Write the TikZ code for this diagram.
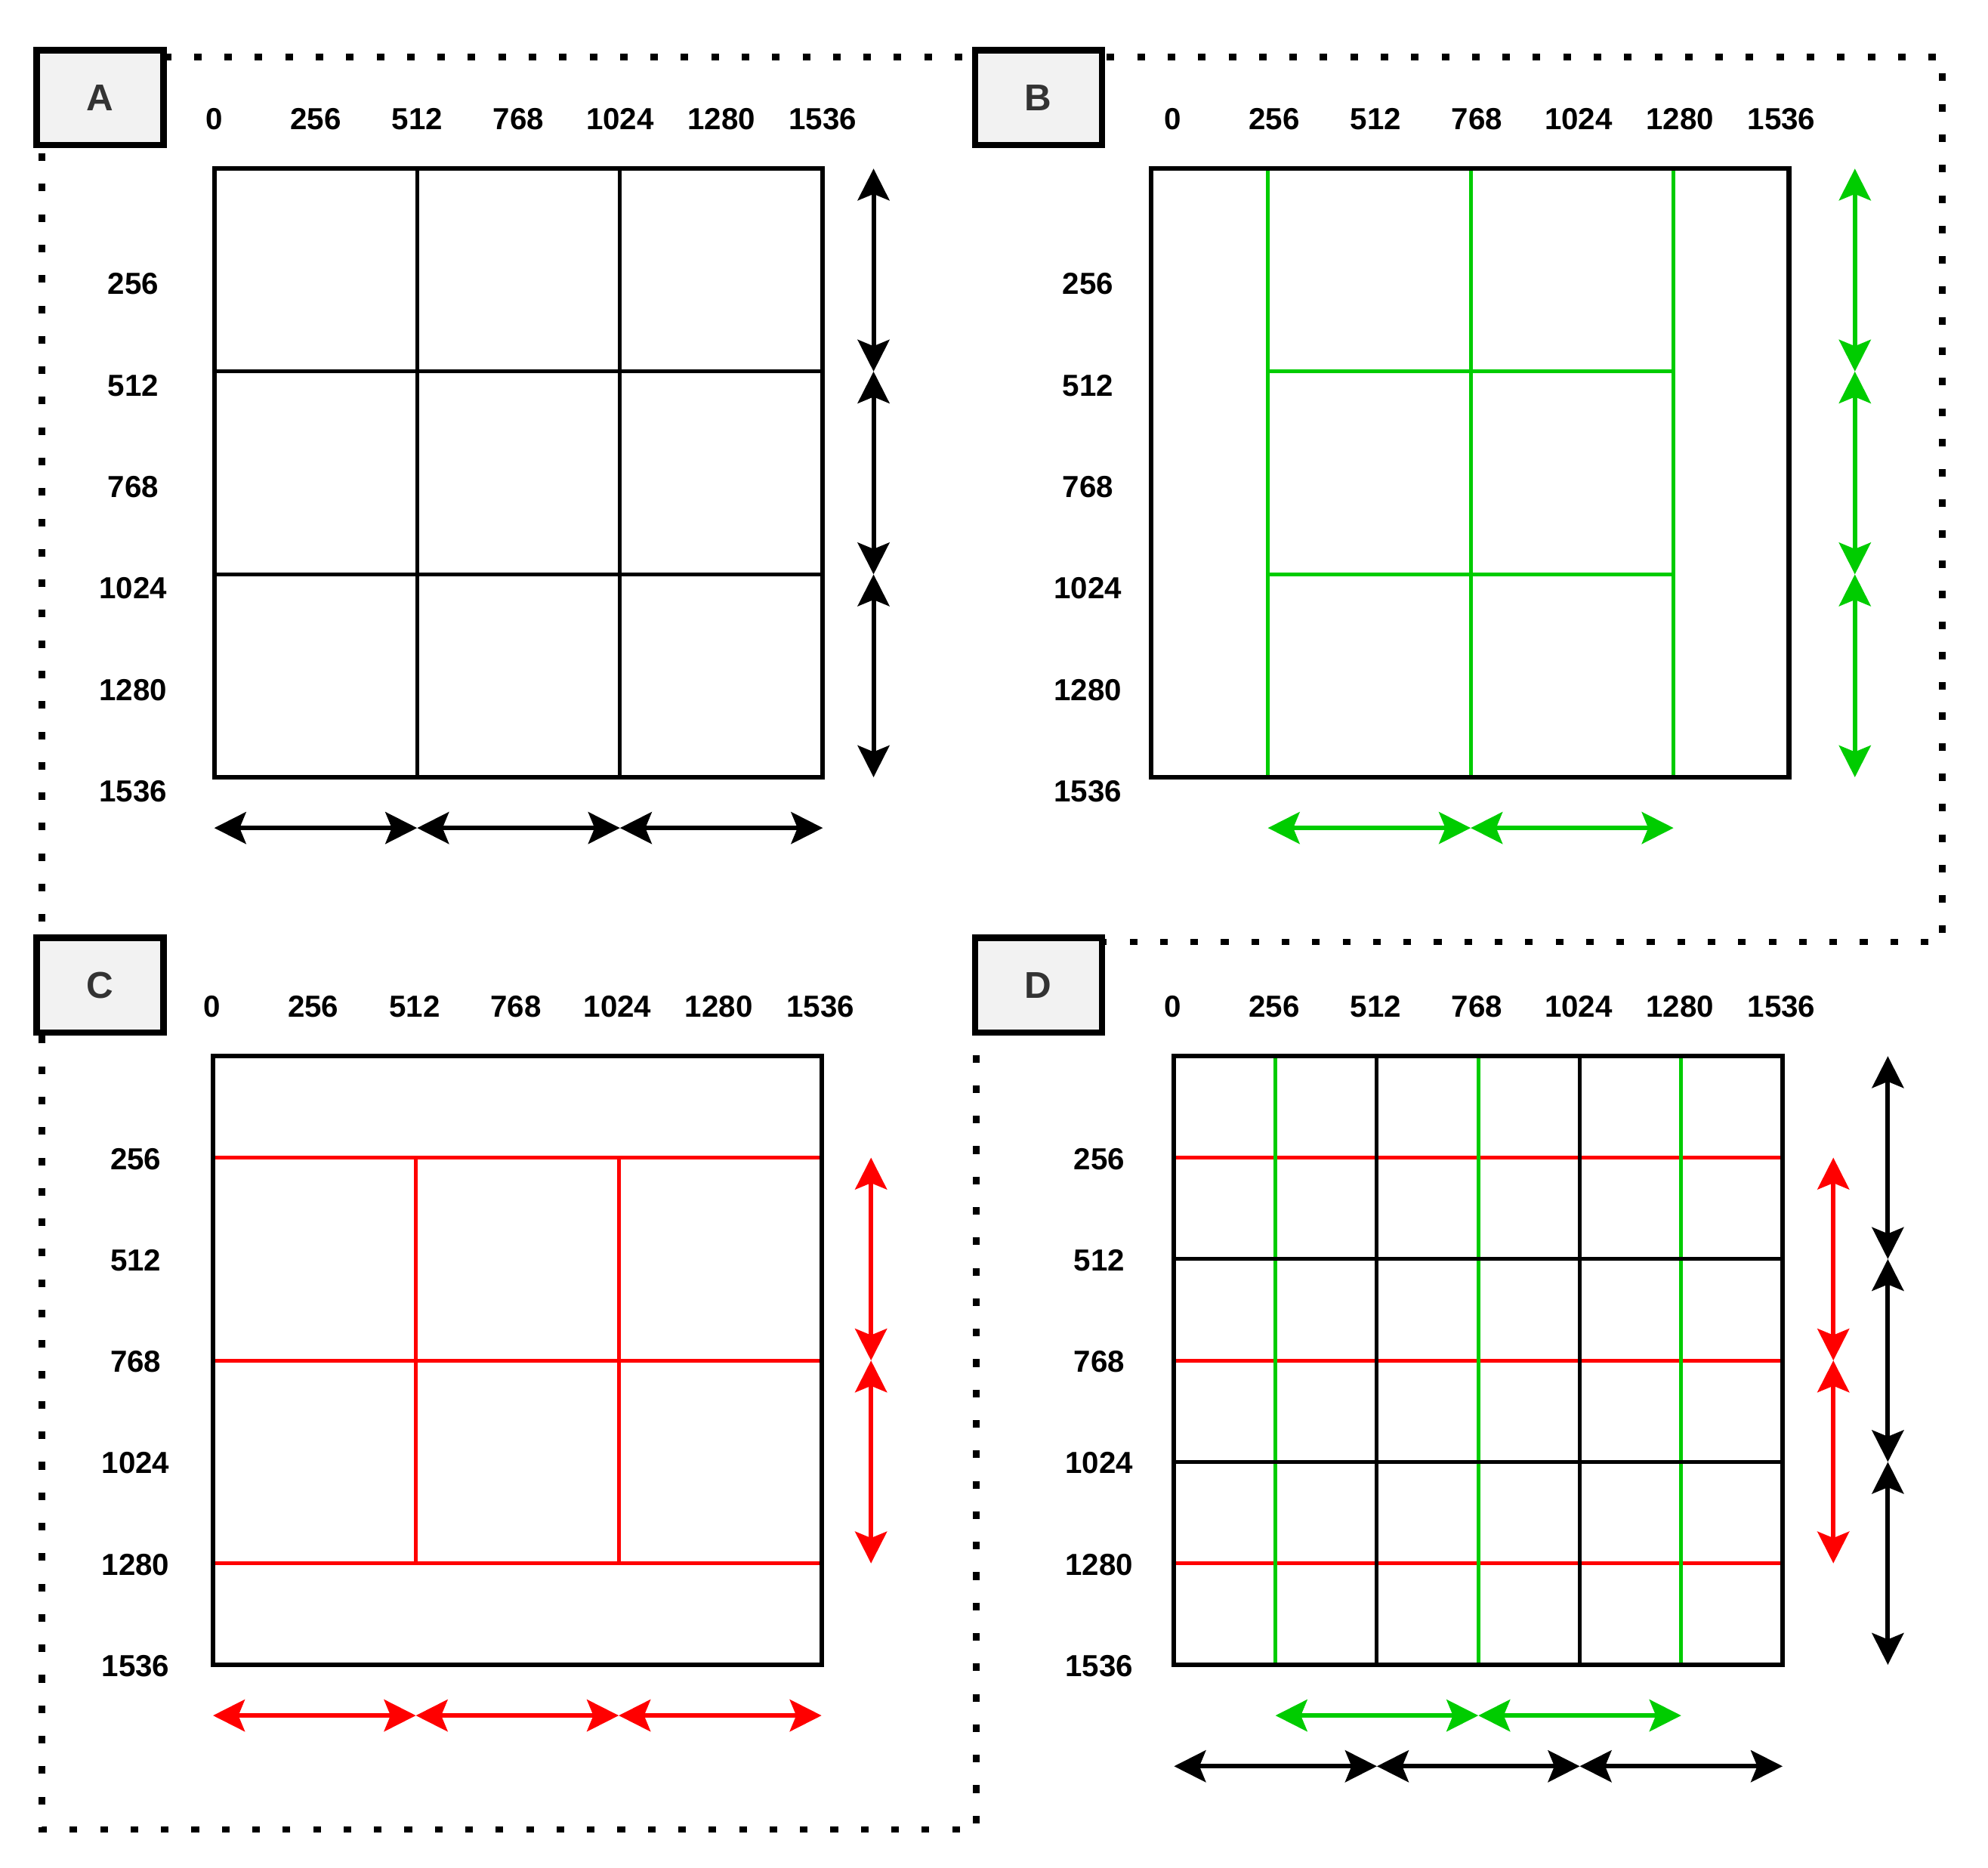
\documentclass[tikz,border=0pt]{standalone}
\usepackage{fontspec}
\setmainfont{Liberation Sans}
\usetikzlibrary{arrows.meta}
\definecolor{gr}{HTML}{00CC00}
\definecolor{rd}{HTML}{FF0000}
\definecolor{lbltext}{HTML}{333333}
\definecolor{lblfill}{HTML}{F2F2F2}
\begin{document}
\begin{tikzpicture}[x=0.5pt,y=-0.5pt,
  tick/.style={font=\fontsize{12}{14}\selectfont\bfseries, inner sep=0pt, text=black},
  panellabel/.style={draw=black, line width=2.5pt, fill=lblfill, minimum width=50pt, minimum height=37.5pt, inner sep=0pt, font=\fontsize{14.7}{17}\selectfont\bfseries, text=lbltext},
  gbox/.style={draw=black, line width=1.8pt},
  gline/.style={line width=1.5pt},
  dim/.style={line width=1.8pt, {Stealth[length=12.5pt,width=12.5pt,inset=2.5pt]}-{Stealth[length=12.5pt,width=12.5pt,inset=2.5pt]}},
  dotline/.style={line width=2.5pt, dash pattern=on 3pt off 9pt}
]
\useasboundingbox (0,0) rectangle (1568,1473);

% dotted outline
\draw[dotline] (33,45) -- (1532,45) -- (1532,743) -- (770,743) -- (770,1443) -- (33,1443) -- cycle;

% ---------- Panel A ----------
\foreach \v in {329,489} \draw[gline] (\v,133) -- (\v,613);
\foreach \v in {293,453} \draw[gline] (169,\v) -- (649,\v);
\draw[gbox] (169,133) rectangle (649,613);
\foreach \t [count=\i from 0] in {0,256,512,768,1024,1280,1536}
  \node[tick] (At\i) at (169+80*\i,94) {\t};
\foreach \t [count=\i] in {256,512,768,1024,1280,1536}
  \node[tick] (Al\i) at (105,144+80*\i) {\t};
\coordinate (Av0) at (689,133); \coordinate (Av1) at (689,293);
\coordinate (Av2) at (689,453); \coordinate (Av3) at (689,613);
\draw[dim] (Av0) -- (Av1); \draw[dim] (Av1) -- (Av2); \draw[dim] (Av2) -- (Av3);
\coordinate (Ah0) at (169,653); \coordinate (Ah1) at (329,653);
\coordinate (Ah2) at (489,653); \coordinate (Ah3) at (649,653);
\draw[dim] (Ah0) -- (Ah1); \draw[dim] (Ah1) -- (Ah2); \draw[dim] (Ah2) -- (Ah3);

% ---------- Panel B ----------
\foreach \v in {1000,1160,1320} \draw[gline, gr] (\v,133) -- (\v,613);
\foreach \v in {293,453} \draw[gline, gr] (1000,\v) -- (1320,\v);
\draw[gbox] (908,133) rectangle (1411,613);
\foreach \t [count=\i from 0] in {0,256,512,768,1024,1280,1536}
  \node[tick] (Bt\i) at (925+80*\i,94) {\t};
\foreach \t [count=\i] in {256,512,768,1024,1280,1536}
  \node[tick] (Bl\i) at (858,144+80*\i) {\t};
\coordinate (Bv0) at (1463,133); \coordinate (Bv1) at (1463,293);
\coordinate (Bv2) at (1463,453); \coordinate (Bv3) at (1463,613);
\draw[dim, gr] (Bv0) -- (Bv1); \draw[dim, gr] (Bv1) -- (Bv2); \draw[dim, gr] (Bv2) -- (Bv3);
\coordinate (Bh0) at (1000,653); \coordinate (Bh1) at (1160,653); \coordinate (Bh2) at (1320,653);
\draw[dim, gr] (Bh0) -- (Bh1); \draw[dim, gr] (Bh1) -- (Bh2);

% ---------- Panel C ----------
\foreach \v in {913,1073,1233} \draw[gline, rd] (168,\v) -- (648,\v);
\foreach \v in {328,488} \draw[gline, rd] (\v,913) -- (\v,1233);
\draw[gbox] (168,833) rectangle (648,1313);
\foreach \t [count=\i from 0] in {0,256,512,768,1024,1280,1536}
  \node[tick] (Ct\i) at (167+80*\i,794) {\t};
\foreach \t [count=\i] in {256,512,768,1024,1280,1536}
  \node[tick] (Cl\i) at (107,834+80*\i) {\t};
\coordinate (Cv0) at (687,913); \coordinate (Cv1) at (687,1073); \coordinate (Cv2) at (687,1233);
\draw[dim, rd] (Cv0) -- (Cv1); \draw[dim, rd] (Cv1) -- (Cv2);
\coordinate (Ch0) at (168,1353); \coordinate (Ch1) at (328,1353);
\coordinate (Ch2) at (488,1353); \coordinate (Ch3) at (648,1353);
\draw[dim, rd] (Ch0) -- (Ch1); \draw[dim, rd] (Ch1) -- (Ch2); \draw[dim, rd] (Ch2) -- (Ch3);

% ---------- Panel D ----------
\foreach \v in {913,1073,1233} \draw[gline, rd] (926,\v) -- (1406,\v);
\foreach \v in {1006,1166,1326} \draw[gline, gr] (\v,833) -- (\v,1313);
\foreach \v in {1086,1246} \draw[gline] (\v,833) -- (\v,1313);
\foreach \v in {993,1153} \draw[gline] (926,\v) -- (1406,\v);
\draw[gbox] (926,833) rectangle (1406,1313);
\foreach \t [count=\i from 0] in {0,256,512,768,1024,1280,1536}
  \node[tick] (Dt\i) at (925+80*\i,794) {\t};
\foreach \t [count=\i] in {256,512,768,1024,1280,1536}
  \node[tick] (Dl\i) at (867,834+80*\i) {\t};
\coordinate (Dk0) at (1489,833); \coordinate (Dk1) at (1489,993);
\coordinate (Dk2) at (1489,1153); \coordinate (Dk3) at (1489,1313);
\draw[dim] (Dk0) -- (Dk1); \draw[dim] (Dk1) -- (Dk2); \draw[dim] (Dk2) -- (Dk3);
\coordinate (Dr0) at (1446,913); \coordinate (Dr1) at (1446,1073); \coordinate (Dr2) at (1446,1233);
\draw[dim, rd] (Dr0) -- (Dr1); \draw[dim, rd] (Dr1) -- (Dr2);
\coordinate (Dg0) at (1006,1353); \coordinate (Dg1) at (1166,1353); \coordinate (Dg2) at (1326,1353);
\draw[dim, gr] (Dg0) -- (Dg1); \draw[dim, gr] (Dg1) -- (Dg2);
\coordinate (Dh0) at (926,1393); \coordinate (Dh1) at (1086,1393);
\coordinate (Dh2) at (1246,1393); \coordinate (Dh3) at (1406,1393);
\draw[dim] (Dh0) -- (Dh1); \draw[dim] (Dh1) -- (Dh2); \draw[dim] (Dh2) -- (Dh3);

% ---------- panel labels ----------
\node[panellabel] (labA) at (79,77) {A};
\node[panellabel] (labB) at (819,77) {B};
\node[panellabel] (labC) at (79,777) {C};
\node[panellabel] (labD) at (819,777) {D};
\end{tikzpicture}
\end{document}
